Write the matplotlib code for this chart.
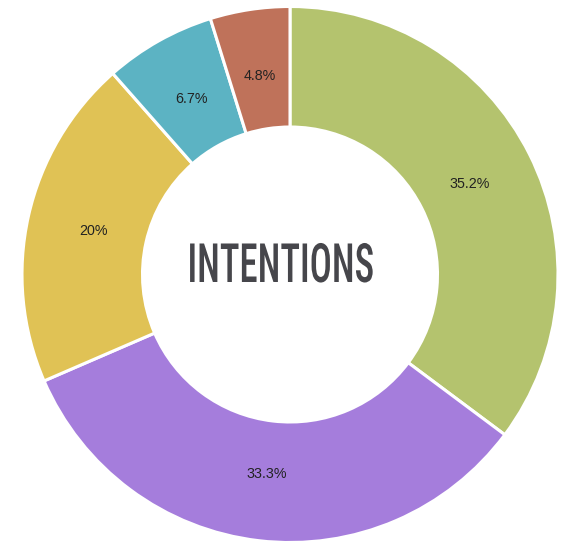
import matplotlib
matplotlib.use("Agg")
import matplotlib.pyplot as plt
from matplotlib.patheffects import AbstractPathEffect
from matplotlib.transforms import Affine2D

# ---- data ----
categories = ["A", "B", "C", "D", "E"]
values = [35.2, 33.3, 20.0, 6.7, 4.8]
colors = ["#b4c36e", "#a57ddc", "#e0c255", "#5cb3c3", "#bf725a"]
center_title = "INTENTIONS"

W, H = 565, 543
fig = plt.figure(figsize=(W / 100, H / 100), dpi=100)
fig.patch.set_facecolor("white")
ax = fig.add_axes([0, 0, 1, 1])

cx, cy = 290, H - 274.5
R = 268
inner = 147.5


def fmt(p):
    s = f"{p:.1f}"
    if s.endswith(".0"):
        s = s[:-2]
    return s + "%"


wedges, texts, autotexts = ax.pie(
    values,
    colors=colors,
    startangle=90,
    counterclock=False,
    center=(cx, cy),
    radius=R,
    autopct=fmt,
    pctdistance=0.75,
    wedgeprops=dict(width=R - inner, edgecolor="white", linewidth=2.2),
    textprops=dict(fontsize=10.3, color="#222222", family=["Liberation Sans", "DejaVu Sans"]),
    frame=True,
)
ax.set_xlim(0, W)
ax.set_ylim(0, H)
ax.set_aspect("auto")
ax.axis("off")


class HScale(AbstractPathEffect):
    def __init__(self, sx, x0):
        super().__init__()
        self.sx = sx
        self.x0 = x0

    def draw_path(self, renderer, gc, tpath, affine, rgbFace=None):
        a = affine + Affine2D().translate(-self.x0, 0).scale(self.sx, 1).translate(self.x0, 0)
        renderer.draw_path(gc, tpath, a, rgbFace)


tx, ty = 280.5, H - 282
t = ax.text(tx, ty, center_title, ha="center", va="baseline",
            fontsize=39, color="#46464b", fontweight="medium",
            family=["Roboto Condensed", "Roboto", "DejaVu Sans"])
fig.canvas.draw()
bb = t.get_window_extent()
sx = 186.0 / bb.width
x0 = ax.transData.transform((tx, ty))[0]
t.set_path_effects([HScale(sx, x0)])

fig.savefig("out.png", dpi=100, facecolor="white")
